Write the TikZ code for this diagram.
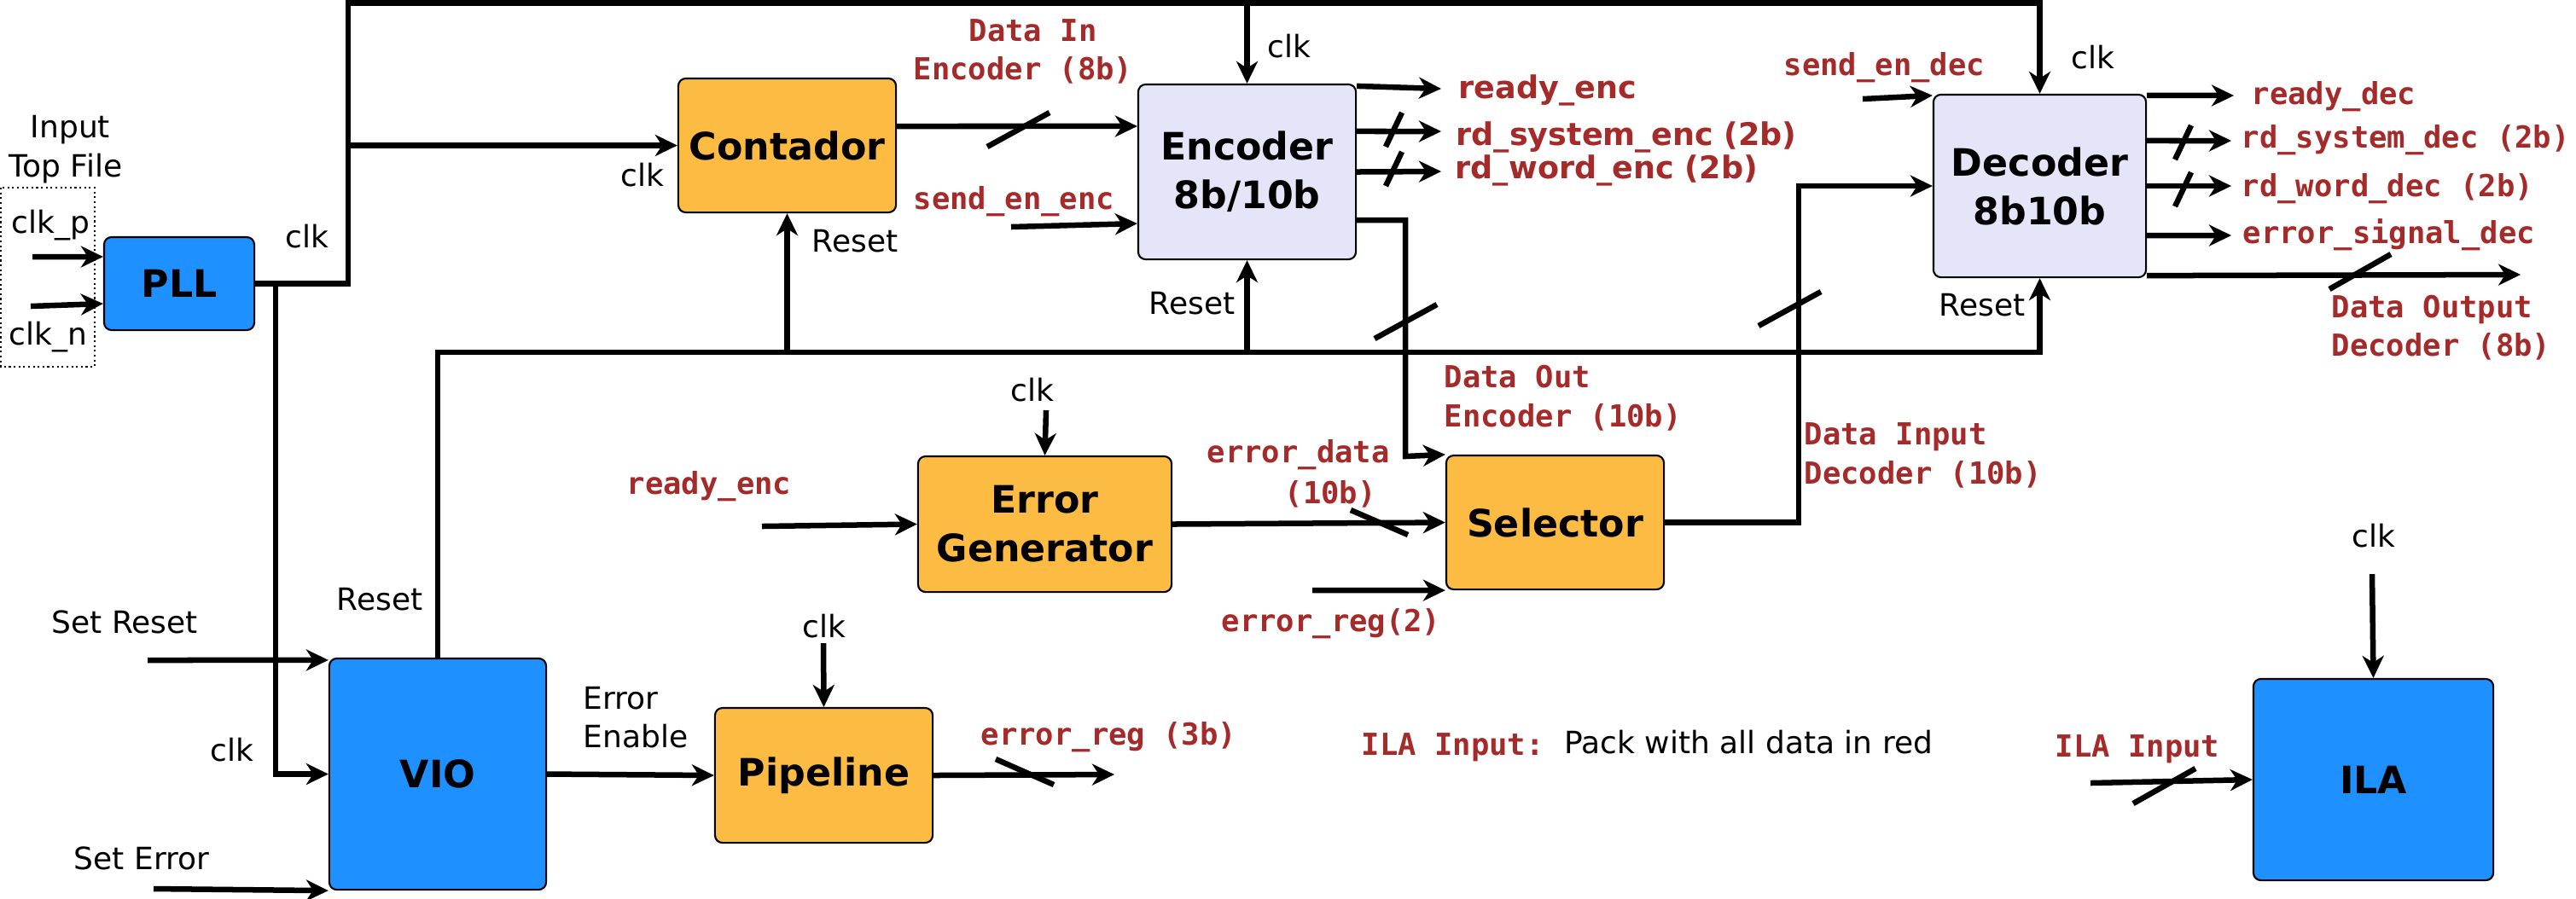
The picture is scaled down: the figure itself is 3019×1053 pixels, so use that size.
\documentclass[tikz,border=0pt]{standalone}
\usepackage{fontspec}
\setmainfont{DejaVu Sans}
\setmonofont{DejaVu Sans Mono}
\usetikzlibrary{arrows.meta,calc}
\definecolor{redc}{RGB}{165,42,42}
\definecolor{bluec}{RGB}{30,144,255}
\definecolor{orangec}{RGB}{252,187,67}
\definecolor{lavc}{RGB}{228,229,249}
\tikzset{
  wire/.style={line width=0.065cm},
  arr/.style={wire,-{Stealth[length=0.26cm,width=0.25cm,inset=0.08cm]}},
  slash/.style={line width=0.065cm},
  blk/.style={draw,line width=0.6pt,rounded corners=2.5pt,inner sep=0pt,align=center,
    font=\bfseries\fontsize{12.6}{16.2}\selectfont},
  txt/.style={inner sep=0pt,anchor=base west,font=\fontsize{10.24}{12}\selectfont},
  sig/.style={inner sep=0pt,anchor=base west,text=redc,font=\ttfamily\bfseries\fontsize{10.1}{12}\selectfont},
  sigp/.style={inner sep=0pt,anchor=base west,text=redc,font=\bfseries\fontsize{10.4}{12}\selectfont},
}
\begin{document}
\begin{tikzpicture}[x=0.01cm,y=-0.01cm]
\useasboundingbox (0,0) rectangle (3019,1053);

% blocks
\node[blk,fill=bluec,minimum width=1.76cm,minimum height=1.09cm] (pll) at (210,332.5) {PLL};
\node[blk,fill=orangec,minimum width=2.55cm,minimum height=1.57cm] (cont) at (922.5,170.5) {Contador};
\node[blk,fill=lavc,minimum width=2.55cm,minimum height=2.05cm] (enc) at (1461.5,201.5) {Encoder\\8b/10b};
\node[blk,fill=lavc,minimum width=2.49cm,minimum height=2.14cm] (dec) at (2390.5,218) {Decoder\\8b10b};
\node[blk,fill=orangec,minimum width=2.97cm,minimum height=1.59cm] (err) at (1224.5,614.5) {Error\\Generator};
\node[blk,fill=orangec,minimum width=2.55cm,minimum height=1.57cm] (sel) at (1822.5,612.5) {Selector};
\node[blk,fill=bluec,minimum width=2.54cm,minimum height=2.71cm] (vio) at (513,907.5) {VIO};
\node[blk,fill=orangec,minimum width=2.55cm,minimum height=1.58cm] (pipe) at (965.5,909) {Pipeline};
\node[blk,fill=bluec,minimum width=2.81cm,minimum height=2.36cm] (ila) at (2781.5,914) {ILA};

% input frame
\draw[densely dotted,line width=0.6pt] (1,220) rectangle (111,430);

% coordinates
\coordinate (cJ1) at (408,332.5);
\coordinate (cTopL) at (408,3.5);
\coordinate (cTopR) at (dec.north |- cTopL);
\coordinate (cJv) at (323,332.5);
\coordinate (cRstL) at (513,413);
\coordinate (cDo) at (1647,535);
\coordinate (cDi) at (2108,218);
\coordinate (cClkP) at (38,301);
\coordinate (cClkN) at (36,359);
\coordinate (cSencS) at (1185,266);
\coordinate (cReadyE) at (1689,104);
\coordinate (cSysE) at (1689,154);
\coordinate (cWordE) at (1689,201);
\coordinate (cSdecS) at (2183,116);
\coordinate (cReadyD) at (2618,112);
\coordinate (cSysD) at (2615,165);
\coordinate (cWordD) at (2615,218);
\coordinate (cErrD) at (2615,276);
\coordinate (cDoD) at (2954,322);
\coordinate (cClkErr) at (1226,481);
\coordinate (cRdyS) at (893,617);
\coordinate (cEreg2) at (1538,692);
\coordinate (cSetR) at (173,774);
\coordinate (cSetE) at (180,1042);
\coordinate (cClkPipe) at (965,754);
\coordinate (cPipeO) at (1306,908);
\coordinate (cClkIla) at (2780,673);
\coordinate (cIlaIn) at (2450,918);

% clock tree
\draw[arr] (pll.east) -- (cJ1) -- (cTopL) -- (cTopR) -- (dec.north);
\draw[arr] (enc.north |- cTopL) -- (enc.north);
\draw[arr] (cJ1 |- cont.west) -- (cont.west);
\draw[arr] (cJv) |- (vio.west);
\draw[arr] (cClkP) -- ([yshift=0.315cm]pll.west);
\draw[arr] (cClkN) -- ([yshift=-0.235cm]pll.west);

% reset bus
\draw[arr] (vio.north) -- (cRstL) -| (dec.south);
\draw[arr] (cont.south |- cRstL) -- (cont.south);
\draw[arr] (enc.south |- cRstL) -- (enc.south);

% encoder
\draw[arr] ([yshift=0.225cm]cont.east) -- ([yshift=0.535cm]enc.west);
\draw[arr] (cSencS) -- ([yshift=-0.605cm]enc.west);
\draw[arr] ([yshift=-0.03cm]enc.north east) -- (cReadyE);
\draw[arr] ([yshift=0.475cm]enc.east) -- (cSysE);
\draw[arr] (enc.east) -- (cWordE);
\draw[arr] ([yshift=-0.565cm]enc.east) -| (cDo) -- (sel.north west);

% decoder
\draw[arr] (sel.east) -| (cDi) -- (dec.west);
\draw[arr] (cSdecS) -- ([yshift=-0.02cm]dec.north west);
\draw[arr] ([yshift=-0.02cm]dec.north east) -- (cReadyD);
\draw[arr] ([yshift=0.53cm]dec.east) -- (cSysD);
\draw[arr] (dec.east) -- (cWordD);
\draw[arr] ([yshift=-0.58cm]dec.east) -- (cErrD);
\draw[arr] ([yshift=0.03cm]dec.south east) -- (cDoD);

% error generator / selector
\draw[arr] (cClkErr) -- (err.north);
\draw[arr] (cRdyS) -- (err.west);
\draw[arr] (err.east) -- (sel.west);
\draw[arr] (cEreg2) -- (sel.south west);

% VIO / pipeline / ILA
\draw[arr] (cSetR) -- ([yshift=-0.03cm]vio.north west);
\draw[arr] (cSetE) -- (vio.south west);
\draw[arr] (vio.east) -- (pipe.west);
\draw[arr] (cClkPipe) -- (pipe.north);
\draw[arr] (pipe.east) -- (cPipeO);
\draw[arr] (cClkIla) -- (ila.north);
\draw[arr] (cIlaIn) -- (ila.west);

% bus width slashes
\draw[slash] (1157,172) -- (1230,132);
\draw[slash] (1624,172) -- (1643,132);
\draw[slash] (1624,218) -- (1643,178);
\draw[slash] (1611,397) -- (1684,357);
\draw[slash] (2061,382) -- (2134,342);
\draw[slash] (2549,187) -- (2568,147);
\draw[slash] (2549,242) -- (2568,202);
\draw[slash] (2730,339) -- (2802,298);
\draw[slash] (1583,598) -- (1650,627);
\draw[slash] (1167,890) -- (1235,920);
\draw[slash] (2500,942) -- (2573,901);

% black labels
\node[txt] (tInput) at (35,161) {Input};
\node[txt] (tTop) at (10,207) {Top File};
\node[txt] (tclkp) at (13,273) {clk\_p};
\node[txt] (tclkn) at (10,404) {clk\_n};
\node[txt] (tclkpll) at (334,290) {clk};
\node[txt] (tclkcont) at (727,218) {clk};
\node[txt] (trstcont) at (951,295) {Reset};
\node[txt] (tclkenc) at (1485,67) {clk};
\node[txt] (trstenc) at (1346,368) {Reset};
\node[txt] (tclkdec) at (2427,80) {clk};
\node[txt] (trstdec) at (2272,370) {Reset};
\node[txt] (tclkerr) at (1184,470) {clk};
\node[txt] (tclkpipe) at (940,747) {clk};
\node[txt] (tclkila) at (2756,641) {clk};
\node[txt] (tclkvio) at (246,892) {clk};
\node[txt] (trstvio) at (394,715) {Reset};
\node[txt] (tsetrst) at (60,742) {Set Reset};
\node[txt] (tseterr) at (86,1019) {Set Error};
\node[txt] (terr1) at (683,831) {Error};
\node[txt] (terr2) at (683,876) {Enable};
\node[txt] (tpack) at (1833,883) {Pack with all data in red};

% red labels
\node[sig] (tdin1) at (1135,48) {Data In};
\node[sig] (tdin2) at (1070,93) {Encoder (8b)};
\node[sig] (tsenc) at (1070,245) {send\_en\_enc};
\node[sigp] (treadyenc) at (1709,115) {ready\_enc};
\node[sigp] (trdsys) at (1706,170) {rd\_system\_enc (2b)};
\node[sigp] (trdword) at (1705,209) {rd\_word\_enc (2b)};
\node[sig] (tsdec) at (2090,88) {send\_en\_dec};
\node[sig] (treadydec) at (2638,122) {ready\_dec};
\node[sig] (trdsysd) at (2626,173) {rd\_system\_dec (2b)};
\node[sig] (trdwordd) at (2626,230) {rd\_word\_dec (2b)};
\node[sig] (terrsig) at (2628,285) {error\_signal\_dec};
\node[sig] (tdo1) at (2732,372) {Data Output};
\node[sig] (tdo2) at (2732,417) {Decoder (8b)};
\node[sig] (tdoe1) at (1692,454) {Data Out};
\node[sig] (tdoe2) at (1692,500) {Encoder (10b)};
\node[sig] (tdi1) at (2114,521) {Data Input};
\node[sig] (tdi2) at (2114,567) {Decoder (10b)};
\node[sig] (trdyin) at (734,579) {ready\_enc};
\node[sig] (terrd1) at (1414,542) {error\_data};
\node[sig] (terrd2) at (1505,590) {(10b)};
\node[sig] (terreg2) at (1431,740) {error\_reg(2)};
\node[sig] (terreg3) at (1149,873) {error\_reg (3b)};
\node[sig] (tilain1) at (1595,885) {ILA Input:};
\node[sig] (tilain2) at (2408,887) {ILA Input};
\end{tikzpicture}
\end{document}
